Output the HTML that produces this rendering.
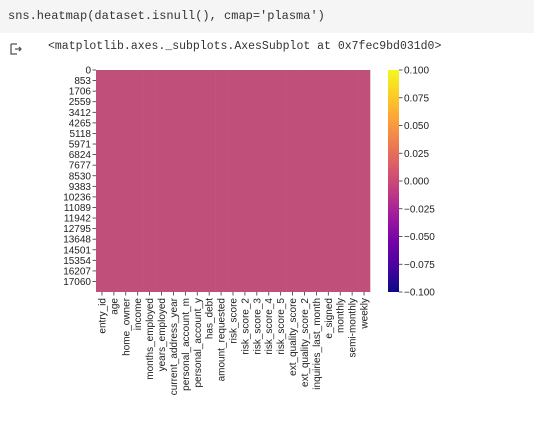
<!DOCTYPE html>
<html><head><meta charset="utf-8"><style>
body{margin:0;width:534px;height:428px;background:#fff;overflow:hidden;font-family:"Liberation Sans",sans-serif}
.code{position:absolute;left:0;top:0;width:534px;height:33px;background:#f5f5f5;font:12px "Liberation Mono",monospace;color:#333;line-height:33px;padding-left:8px;box-sizing:border-box}
.out{position:absolute;left:48px;top:40px;font:11.5px "Liberation Mono",monospace;color:#333}
</style></head><body>
<div class="code">sns.heatmap(dataset.isnull(), cmap='plasma')</div>
<svg style="position:absolute;left:10px;top:43px" width="12" height="12"><path d="M1 1h6M1 1v10h6M5 6h6M9 4l2 2-2 2" stroke="#555" fill="none" stroke-width="1.3"/></svg>
<div class="out">&lt;matplotlib.axes._subplots.AxesSubplot at 0x7fec9bd031d0&gt;</div>
<svg id="chart" style="position:absolute;left:0;top:0" width="534" height="428">
<defs><linearGradient id="pl" x1="0" y1="1" x2="0" y2="0">
<stop offset="0" stop-color="#0d0887"/><stop offset=".11" stop-color="#46039f"/><stop offset=".22" stop-color="#7201a8"/><stop offset=".33" stop-color="#9c179e"/><stop offset=".44" stop-color="#bd3786"/><stop offset=".55" stop-color="#d8576b"/><stop offset=".66" stop-color="#ed7953"/><stop offset=".77" stop-color="#fb9f3a"/><stop offset=".88" stop-color="#fdca26"/><stop offset="1" stop-color="#f0f921"/></linearGradient></defs>
</svg>
<script>
const columns=["entry_id","age","home_owner","income","months_employed","years_employed","current_address_year","personal_account_m","personal_account_y","has_debt","amount_requested","risk_score","risk_score_2","risk_score_3","risk_score_4","risk_score_5","ext_quality_score","ext_quality_score_2","inquiries_last_month","e_signed","monthly","semi-monthly","weekly"];
const nullCounts=[0,0,0,0,0,0,0,0,0,0,0,0,0,0,0,0,0,0,0,0,0,0,0];
const nRows=17908;
const rowTicks=[0,853,1706,2559,3412,4265,5118,5971,6824,7677,8530,9383,10236,11089,11942,12795,13648,14501,15354,16207,17060];
const cbTicks=[0.1,0.075,0.05,0.025,0,-0.025,-0.05,-0.075,-0.1];
const vmin=-0.1,vmax=0.1;
const svg=document.getElementById('chart'),NS="http://www.w3.org/2000/svg";
const L=96,R=370,T=70,B=292,CL=388,CR=399;
const cw=(R-L)/columns.length;
const x=i=>L+i*cw, y=r=>T+(r/nRows)*(B-T), cy=v=>T+(vmax-v)/(vmax-vmin)*(B-T);
const stops=[[0,"#0d0887"],[.11,"#46039f"],[.22,"#7201a8"],[.33,"#9c179e"],[.44,"#bd3786"],[.55,"#d8576b"],[.66,"#ed7953"],[.77,"#fb9f3a"],[.88,"#fdca26"],[1,"#f0f921"]];
function cmap(v){let t=(v-vmin)/(vmax-vmin);t=Math.max(0,Math.min(1,t));if(t==0.5)return "#c0507a";
for(let i=1;i<stops.length;i++)if(t<=stops[i][0]){const a=stops[i-1],b=stops[i];const f=(t-a[0])/(b[0]-a[0]);const p=s=>[1,3,5].map(k=>parseInt(s.substr(k,2),16));const c1=p(a[1]),c2=p(b[1]);return "rgb("+c1.map((c,k)=>Math.round(c+(c2[k]-c)*f)).join(",")+")";}return "#f0f921";}
function el(t,a){const e=document.createElementNS(NS,t);for(const k in a)e.setAttribute(k,a[k]);svg.appendChild(e);return e;}
columns.forEach((c,i)=>{
 const r=el('rect',{x:x(i),y:T,width:cw+0.3,height:B-T,fill:cmap(nullCounts[i]>0?1:0)});
 
 
 const cx=x(i)+cw/2;
 const tk=el('line',{x1:cx,x2:cx,y1:B,y2:B+3.5,stroke:'#333','stroke-width':0.8});
 
 
 const t=el('text',{transform:`translate(${cx+3.5},${B+6}) rotate(-90)`,'text-anchor':'end','font-size':'10','fill':'#222'});
 t.textContent=c;
 
 
});
rowTicks.forEach(v=>{
 const yy=y(v+0.5);
 const tk=el('line',{x1:L-3.5,x2:L,y1:yy,y2:yy,stroke:'#333','stroke-width':0.8});
 
 
 const t=el('text',{x:L-5,y:yy+3.5,'text-anchor':'end','font-size':'10','fill':'#222'});
 t.textContent=v;
 
 
});
const cb=el('rect',{x:CL,y:T,width:CR-CL,height:B-T,fill:'url(#pl)'});


cbTicks.forEach(v=>{
 const yy=cy(v);
 const tk=el('line',{x1:CR,x2:CR+3.5,y1:yy,y2:yy,stroke:'#333','stroke-width':0.8});
 
 
 const t=el('text',{x:CR+5,y:yy+3.5,'font-size':'10','fill':'#222'});
 t.textContent=(v<0?'\u2212':'')+Math.abs(v).toFixed(3);
 
 
});
</script>
</body></html>
